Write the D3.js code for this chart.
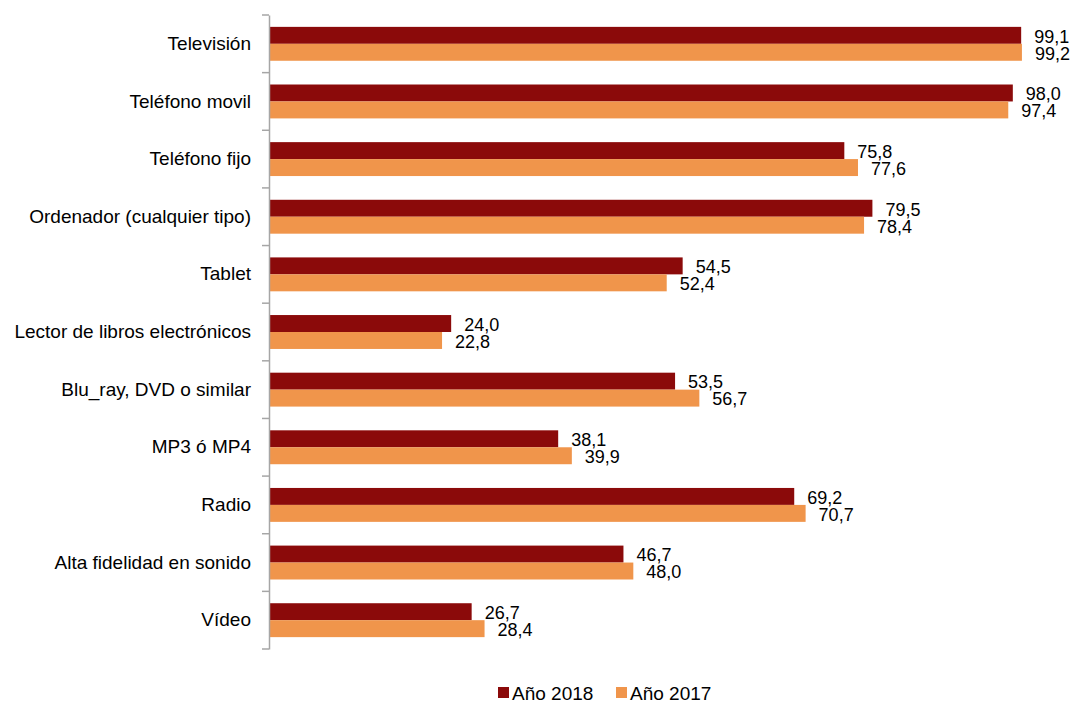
<!DOCTYPE html>
<html>
<head>
<meta charset="utf-8">
<script src="https://cdn.jsdelivr.net/npm/d3@7"></script>
<style>
body{margin:0;background:#fff;}
</style>
</head>
<body>
<div id="chart"></div>
<script>
// -----------------------------------------
//DATA
// -----------------------------------------
var categories = ["Televisión","Teléfono movil","Teléfono fijo","Ordenador (cualquier tipo)","Tablet",
  "Lector de libros electrónicos","Blu_ray, DVD o similar","MP3 ó MP4","Radio","Alta fidelidad en sonido","Vídeo"];
var series = ["Año 2018","Año 2017"];
var values2018 = [99.1,98.0,75.8,79.5,54.5,24.0,53.5,38.1,69.2,46.7,26.7];
var values2017 = [99.2,97.4,77.6,78.4,52.4,22.8,56.7,39.9,70.7,48.0,28.4];
var colors = ["#8b0a0a","#f0954b"];

//FORMAT VARIABLES
var W = 1073, H = 701;
var fontF = "Liberation Sans, Arial, sans-serif";
var padL = 269, padR = 1028, padT = 15, padB = 649;

var svg = d3.select("#chart").append("svg")
  .attr("width", W)
  .attr("height", H)
  .style("font-family", fontF);

var x = d3.scaleLinear().domain([0,100]).range([padL,padR]);
var y = d3.scaleBand().domain(categories).range([padT,padB]);
var y1 = d3.scaleBand().domain(series).range([0,y.bandwidth()]).paddingOuter(0.7);

var rows = categories.map(function(c,i){
  return {cat:c, vals:[{s:series[0],v:values2018[i]},{s:series[1],v:values2017[i]}]};
});

//BARS
var g = svg.selectAll("g.cat").data(rows).enter().append("g")
  .attr("class","cat")
  .attr("transform", function(d){ return "translate(0," + y(d.cat) + ")"; });

g.selectAll("rect").data(function(d){ return d.vals; }).enter().append("rect")
  .attr("x", x(0))
  .attr("y", function(d){ return y1(d.s); })
  .attr("width", function(d){ return x(d.v) - x(0); })
  .attr("height", y1.bandwidth())
  .style("fill", function(d,i){ return colors[i]; });

//VALUE LABELS
g.selectAll("text.val").data(function(d){ return d.vals; }).enter().append("text")
  .attr("class","val")
  .attr("x", function(d){ return x(d.v) + 13; })
  .attr("y", function(d){ return y1(d.s) + y1.bandwidth()/2 + 1; })
  .attr("dy","0.35em")
  .style("font-size","18px")
  .style("fill","#000")
  .text(function(d){ return d.v.toFixed(1).replace(".",","); });

//AXIS
var axis = svg.append("g")
  .attr("transform","translate(" + padL + ",0)")
  .call(d3.axisLeft(y).tickSize(0).tickPadding(18));
axis.select(".domain").attr("stroke","#a6a6a6").attr("stroke-width",1.5);
axis.selectAll("text").style("font-size","19px").style("fill","#000").style("font-family",fontF);

// tick marks on band edges
var edges = categories.map(function(c){ return y(c); }).concat([padB]);
svg.selectAll("line.tk").data(edges).enter().append("line")
  .attr("class","tk")
  .attr("x1", padL - 7).attr("x2", padL)
  .attr("y1", function(d){ return d; }).attr("y2", function(d){ return d; })
  .style("stroke","#a6a6a6").style("stroke-width",1.5);

//LEGEND
var legX = [498, 616];
var leg = svg.selectAll("g.leg").data(series).enter().append("g")
  .attr("class","leg")
  .attr("transform", function(d,i){ return "translate(" + legX[i] + ",687)"; });
leg.append("rect").attr("width",11).attr("height",11)
  .style("fill", function(d,i){ return colors[i]; });
leg.append("text").attr("x",14).attr("y",6).attr("dy","0.35em")
  .style("font-size","19px").text(function(d){ return d; });
</script>
</body>
</html>
